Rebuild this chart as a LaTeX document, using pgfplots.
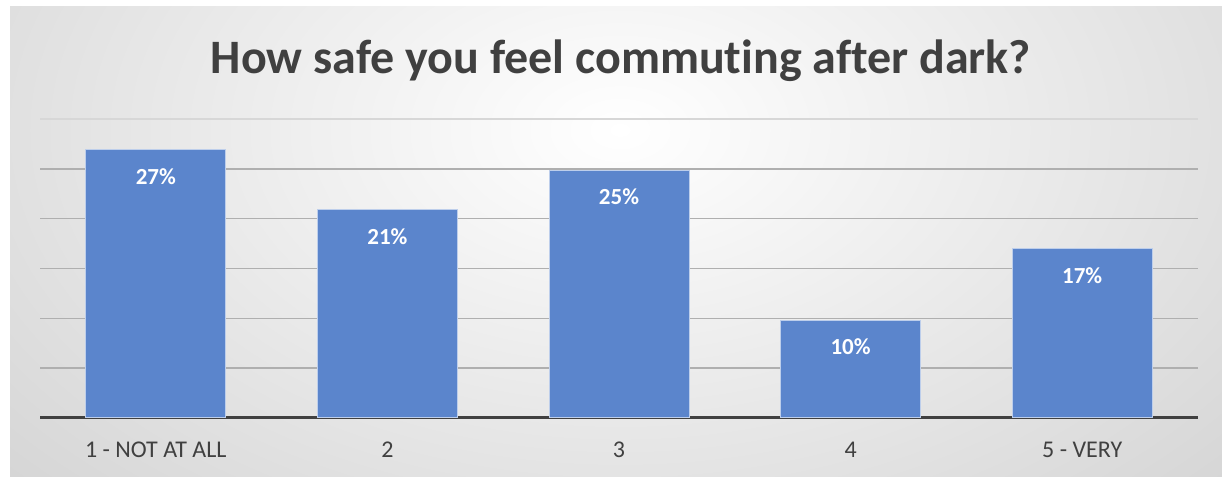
\documentclass[border=0pt]{standalone}
\usepackage{fontspec}
\setmainfont{Carlito}[Ligatures=CommonOff]
\usepackage{pgfplots}
\pgfplotsset{compat=1.18}
\definecolor{barc}{RGB}{91,133,204}
\definecolor{txt}{RGB}{64,64,64}
\definecolor{gridc}{RGB}{175,175,175}
\definecolor{gridtop}{RGB}{215,215,215}
\definecolor{bgedge}{RGB}{190,190,190}
\begin{document}
\begin{tikzpicture}[x=1pt,y=1pt]
\useasboundingbox (0,0) rectangle (1222,476);
\fill[white] (0,0) rectangle (1222,476);
\begin{scope}
\clip (10,0) rectangle (1222,469);
\fill[bgedge] (10,0) rectangle (1222,469);
\shade[inner color=white, outer color=bgedge] (620,346) ellipse [x radius=1300, y radius=820];
\end{scope}
\node[anchor=base, font=\fontsize{48}{58}\selectfont\bfseries, text=txt] at (621,402) {How safe you feel commuting after dark?};
\begin{axis}[
  at={(40pt,58pt)}, anchor=south west,
  scale only axis, width=1158pt, height=299pt,
  xmin=-0.5, xmax=4.5, ymin=0, ymax=0.30,
  separate axis lines,
  axis x line*=bottom, axis y line*=left,
  x axis line style={txt, line width=3pt},
  y axis line style={draw=none},
  ytick={0.05,0.10,0.15,0.20,0.25}, yticklabels={},
  ymajorgrids, grid style={gridc, line width=1.5pt},
  extra y ticks={0.30}, extra y tick labels={},
  extra y tick style={grid style={gridtop, line width=1.5pt}},
  major tick length=0pt, tick style={draw=none},
  xtick={0,1,2,3,4},
  xticklabels={1 - NOT AT ALL, 2, 3, 4, 5 - VERY},
  xticklabel style={anchor=base, yshift=-39pt, font=\fontsize{24}{28}\selectfont, text=txt},
  ybar, bar width=140pt,
  nodes near coords, point meta=explicit symbolic,
  every node near coord/.append style={anchor=north, yshift=-15pt, font=\fontsize{23}{26}\selectfont\bfseries, text=white},
  clip=false,
]
\addplot[fill=barc, draw=white!60!barc, line width=1pt] coordinates {
  (0,0.2689) [27\%]
  (1,0.2087) [21\%]
  (2,0.2488) [25\%]
  (3,0.0983) [10\%]
  (4,0.1696) [17\%]
};
\end{axis}
\end{tikzpicture}
\end{document}
